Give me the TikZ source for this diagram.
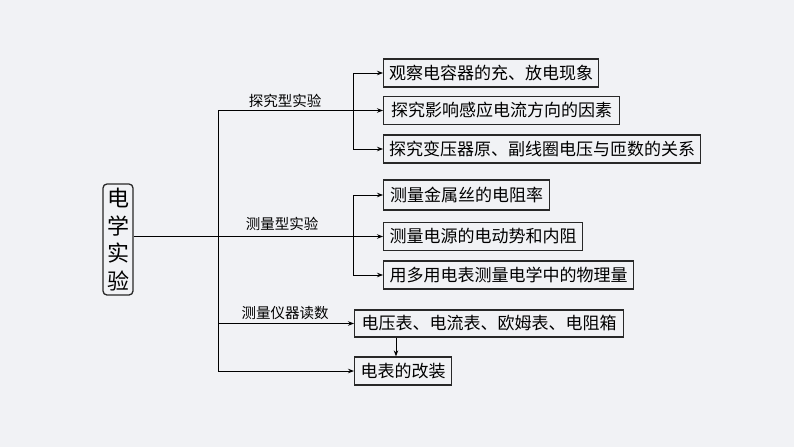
\documentclass[tikz,border=0pt]{standalone}
\usepackage{fontspec}
\setmainfont{Noto Sans CJK SC}
\usetikzlibrary{arrows.meta}
\definecolor{bg}{RGB}{241,242,245}
\definecolor{frame}{RGB}{40,40,40}
\tikzset{
  box/.style={draw=frame, line width=1.3pt, anchor=west, minimum height=28pt, inner xsep=5pt, inner ysep=0pt, font=\fontsize{17}{19}\selectfont},
  mainbox/.style={draw=frame, line width=1.3pt, rounded corners=4pt, minimum width=30pt, minimum height=111pt, inner sep=0pt, align=center, font=\fontsize{22}{27.5}\selectfont},
  lbl/.style={font=\fontsize{14.5}{16}\selectfont, inner sep=0pt},
  con/.style={line width=0.9pt, black},
  arr/.style={con, -{Stealth[length=6pt,width=4.5pt]}}
}
\begin{document}
\begin{tikzpicture}[x=1pt,y=-1pt]
\fill[bg] (0,0) rectangle (794,447);
\useasboundingbox (0,0) rectangle (794,447);

\node[mainbox] (m) at (118,239.5) {电\\学\\实\\验};

\node[box, minimum width=215pt] (g1a) at (383,73) {观察电容器的充、放电现象};
\node[box, minimum width=236pt] (g1b) at (383,110.5) {探究影响感应电流方向的因素};
\node[box, minimum width=317pt] (g1c) at (383,149) {探究变压器原、副线圈电压与匝数的关系};

\node[box, minimum width=166pt, minimum height=30pt] (g2a) at (383,195) {测量金属丝的电阻率};
\node[box, minimum width=199pt] (g2b) at (383,236.5) {测量电源的电动势和内阻};
\node[box, minimum width=250pt] (g2c) at (383,275) {用多用电表测量电学中的物理量};

\node[box, minimum width=269pt, minimum height=27pt] (g3a) at (354,323.5) {电压表、电流表、欧姆表、电阻箱};
\node[box, minimum width=97pt] (g3b) at (354,371) {电表的改装};

\node[lbl] (l1) at (285,101) {探究型实验};
\node[lbl] (l2) at (282,224) {测量型实验};
\node[lbl] (l3) at (285,313) {测量仪器读数};

\coordinate (t1) at (218,110.5);
\coordinate (t4) at (218,371);
\coordinate (c1) at (353,110.5);
\coordinate (c2) at (353,236.5);
\coordinate (xa) at (396,0);

% trunk
\draw[con] (t1) -- (t4);
\draw[con] (t1) -- (c1);
\draw[arr] (m.east |- g2b.west) -- (g2b.west);

% group 1
\draw[arr] (c1) |- (g1a.west);
\draw[arr] (c1) -- (g1b.west);
\draw[arr] (c1) |- (g1c.west);

% group 2
\draw[arr] (c2) |- (g2a.west);
\draw[arr] (c2) |- (g2c.west);

% group 3
\draw[arr] (t1 |- g3a.west) -- (g3a.west);
\draw[arr] (t4) -- (g3b.west);
\draw[arr] (xa |- g3a.south) -- (xa |- g3b.north);
\end{tikzpicture}
\end{document}
